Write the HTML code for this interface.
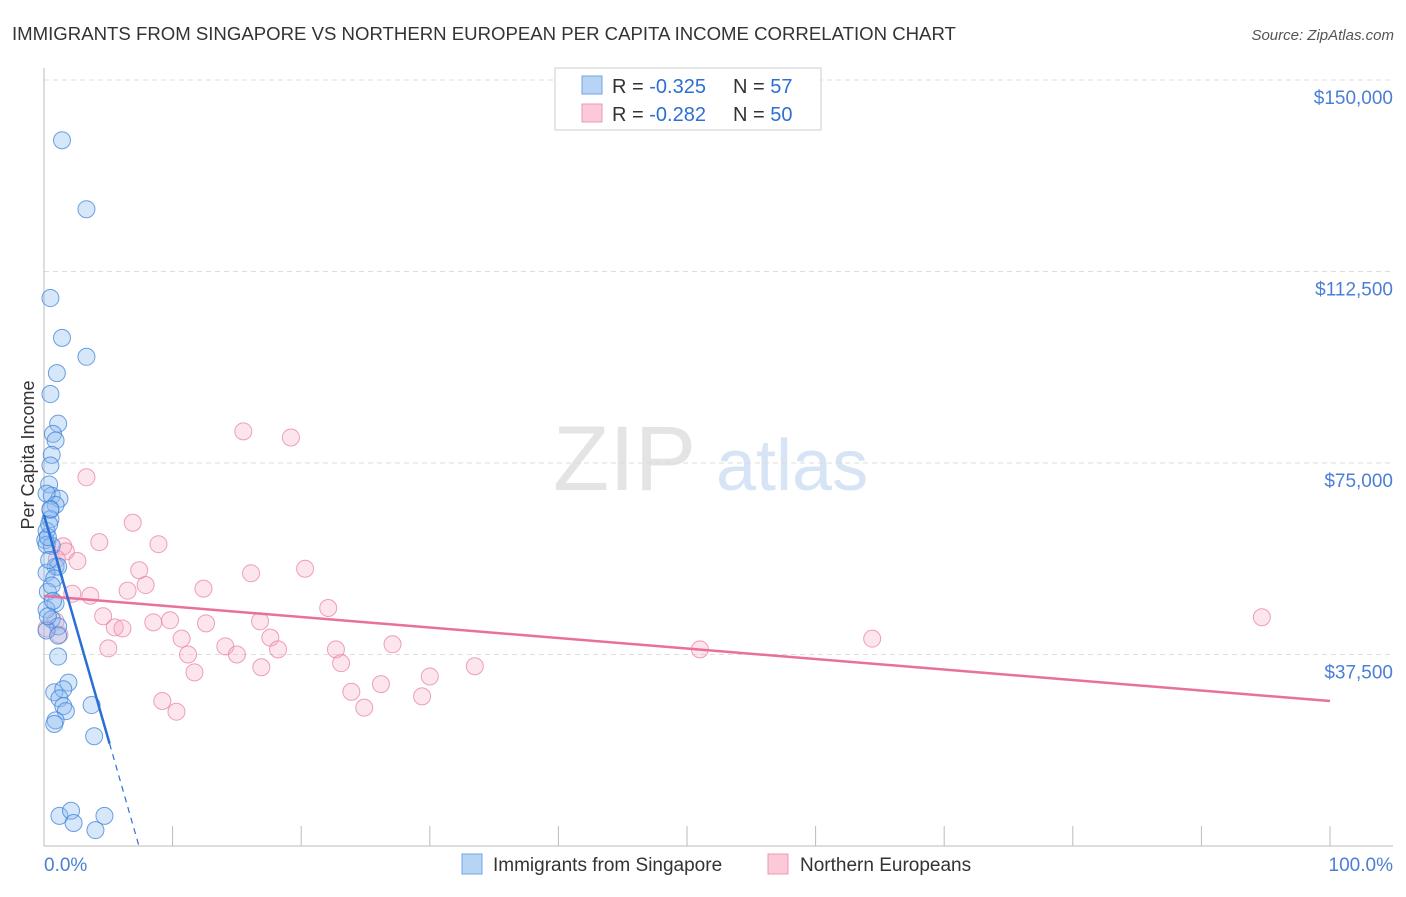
<!DOCTYPE html>
<html><head><meta charset="utf-8"><style>
body{margin:0;background:#fff;font-family:"Liberation Sans",sans-serif;}
svg text{font-family:"Liberation Sans",sans-serif;}
</style></head><body>
<svg id="chart" width="1406" height="892" xmlns="http://www.w3.org/2000/svg">
<text x="12" y="40" font-size="18.6" fill="#333">IMMIGRANTS FROM SINGAPORE VS NORTHERN EUROPEAN PER CAPITA INCOME CORRELATION CHART</text>
<text x="1394" y="40" font-size="15" fill="#555" font-style="italic" text-anchor="end">Source: ZipAtlas.com</text>
<text x="34" y="455" font-size="18" fill="#333" text-anchor="middle" transform="rotate(-90 34 455)">Per Capita Income</text>
<text x="553" y="490" font-size="92" fill="#e4e4e4" font-family="Liberation Serif">ZIP</text>
<text x="716" y="490" font-size="72" fill="#d6e4f5">atlas</text>
<g id="grid"></g><g id="marks"></g>
<g>
<rect x="555" y="68" width="266" height="62" fill="#fff" stroke="#ccc"/>
<rect x="582" y="76" width="20" height="18" fill="#b8d4f5" stroke="#6fa3e0"/>
<rect x="582" y="104" width="20" height="18" fill="#fbc9d8" stroke="#ee99b4"/>
<text x="612" y="93" font-size="20" fill="#333">R = <tspan fill="#2e6fd3">-0.325</tspan></text>
<text x="733" y="93" font-size="20" fill="#333">N = <tspan fill="#2e6fd3">57</tspan></text>
<text x="612" y="121" font-size="20" fill="#333">R = <tspan fill="#2e6fd3">-0.282</tspan></text>
<text x="733" y="121" font-size="20" fill="#333">N = <tspan fill="#2e6fd3">50</tspan></text>
</g>
<g>
<rect x="462" y="854" width="20" height="20" fill="#b8d4f5" stroke="#6fa3e0"/>
<text x="493" y="871" font-size="19" fill="#333">Immigrants from Singapore</text>
<rect x="768" y="854" width="20" height="20" fill="#fbc9d8" stroke="#ee99b4"/>
<text x="800" y="871" font-size="19" fill="#333">Northern Europeans</text>
</g>
<text x="44" y="871" font-size="19" fill="#4a7fd4">0.0%</text>
<text x="1393" y="871" font-size="19" fill="#4a7fd4" text-anchor="end">100.0%</text>
</svg>
<script>
const yTicks=[37500,75000,112500,150000];
const yTickLabels=["$37,500","$75,000","$112,500","$150,000"];
const xTicks=[0,10,20,30,40,50,60,70,80,90,100];
const blueX=[1.4,3.3,0.5,1.4,3.3,1.0,0.5,1.1,0.7,0.9,0.6,0.5,0.4,0.6,1.2,0.2,0.9,0.5,0.5,0.2,0.1,0.6,0.9,1.1,0.2,0.8,0.3,0.9,0.2,0.6,1.1,0.2,1.1,1.1,0.8,1.9,1.5,1.2,1.5,1.7,0.9,0.8,3.7,3.9,1.2,2.1,2.3,4.0,4.7,0.2,0.4,0.3,0.6,0.7,0.4,0.5,0.3];
const blueY=[138200,124700,107300,99500,95800,92600,88500,82700,80700,79400,76600,74500,70800,68600,68000,69000,66800,65800,64000,61700,59900,58800,54700,54700,53500,52400,49800,47500,46300,44400,43000,42200,41200,37100,30100,32000,30700,28900,27400,26400,24600,23900,27600,21500,5900,6900,4500,3100,5900,59000,56000,60500,51000,48000,63000,66000,45000];
const pinkX=[3.3,15.5,19.2,6.9,4.3,8.9,1.5,1.7,20.3,2.6,16.1,7.4,7.9,1.0,6.5,12.4,3.6,2.2,22.1,9.8,8.5,16.8,12.6,4.6,5.5,6.1,10.7,17.6,0.9,5.0,14.1,1.2,22.7,27.1,18.2,11.2,15.0,23.1,33.5,16.9,11.7,30.0,26.2,23.9,9.2,29.4,10.3,24.9,51.0,64.4,94.7,0.2];
const pinkY=[72200,81200,80000,63300,59500,59100,58700,57700,54300,55800,53400,54000,51100,56200,50000,50400,49000,49400,46600,44200,43800,44000,43600,45000,42800,42600,40600,40800,44000,38700,39100,41400,38500,39500,38500,37500,37500,35800,35200,35000,34000,33200,31700,30200,28400,29300,26300,27100,38500,40600,44800,42600];
const blueTrend=[64800,-8776];
const pinkTrend=[48950,-205.6];
const W0=44,W1=1330,Y0=846,PX=191.5/37500;
const sx=v=>W0+v/100*(W1-W0), sy=v=>Y0-v*PX;
const NS="http://www.w3.org/2000/svg";
const grid=document.getElementById('grid'),marks=document.getElementById('marks');
function mk(tag,attrs,parent){const e=document.createElementNS(NS,tag);for(const k in attrs)e.setAttribute(k,attrs[k]);parent.appendChild(e);return e;}
yTicks.forEach((t,i)=>{
 const l=mk('line',{x1:44,x2:1393,y1:sy(t),y2:sy(t),stroke:'#ddd','stroke-dasharray':'5,4'},grid);
 
 
 const tx=mk('text',{x:1393,y:sy(t)+24,'font-size':19,fill:'#4a7fd4','text-anchor':'end'},grid);
 tx.textContent=yTickLabels[i];
 
 
});
const ax=mk('line',{x1:44,x2:44,y1:68,y2:846,stroke:'#bbb'},grid);


const bx=mk('line',{x1:44,x2:1393,y1:846,y2:846,stroke:'#bbb'},grid);


xTicks.forEach(t=>{
 const l=mk('line',{x1:sx(t),x2:sx(t),y1:826,y2:846,stroke:'#bbb'},grid);
 
 
});
function pts(X,Y,fill,stroke,name){X.forEach((x,i)=>{
 const c=mk('circle',{cx:sx(x),cy:sy(Y[i]),r:8.5,fill:fill,stroke:stroke,'stroke-width':1},marks);
 
 
});}
pts(pinkX,pinkY,'rgba(248,170,195,0.3)','rgba(232,130,165,0.75)','pink-point');
pts(blueX,blueY,'rgba(140,185,240,0.35)','rgba(60,130,215,0.75)','blue-point');
const [pa,pb]=pinkTrend;
const pl=mk('line',{x1:sx(0),y1:sy(pa),x2:sx(100),y2:sy(pa+pb*100),stroke:'#e8709a','stroke-width':2.5},marks);


const [ba,bb]=blueTrend;
const bEnd=5.1;
const bl=mk('line',{x1:sx(0),y1:sy(ba),x2:sx(bEnd),y2:sy(ba+bb*bEnd),stroke:'#2b6fd6','stroke-width':2.5},marks);


const x0=-ba/bb;
const bd=mk('line',{x1:sx(bEnd),y1:sy(ba+bb*bEnd),x2:sx(x0),y2:sy(0),stroke:'#2b6fd6','stroke-width':1.2,'stroke-dasharray':'6,5'},marks);


</script>
</body></html>
